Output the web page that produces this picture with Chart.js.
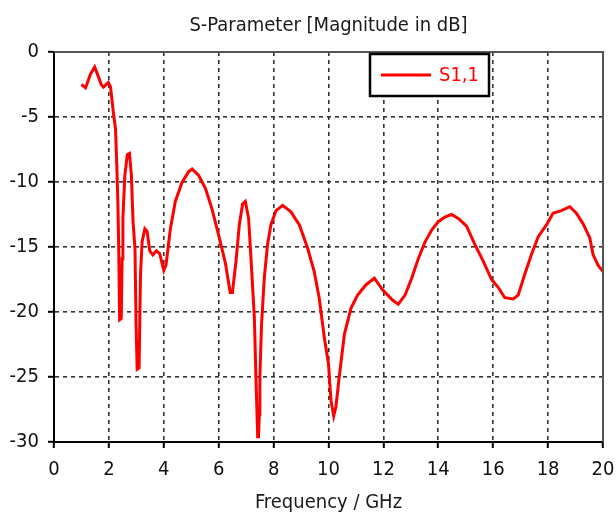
<!DOCTYPE html>
<html>
<head>
<meta charset="utf-8">
<script src="https://cdn.jsdelivr.net/npm/chart.js@4/dist/chart.umd.min.js"></script>
<style>
  html, body { margin: 0; padding: 0; background: #fff; }
  #wrap { width: 616px; height: 515px; }
</style>
</head>
<body>
<div id="wrap"><canvas id="chart" width="616" height="515"></canvas></div>
<script>
// S1,1 magnitude (GHz, dB)
const freq = [
  1.0, 1.15, 1.33, 1.48, 1.6, 1.72, 1.8, 1.98, 2.06, 2.16,
  2.24, 2.28, 2.33, 2.36, 2.39, 2.45, 2.48, 2.51, 2.58, 2.67,
  2.75, 2.82, 2.88, 2.95, 2.99, 3.03, 3.1, 3.15, 3.21, 3.31,
  3.39, 3.49, 3.6, 3.73, 3.85, 4.0, 4.08, 4.24, 4.42, 4.67,
  4.91, 5.03, 5.27, 5.52, 5.76, 6.0, 6.24, 6.42, 6.5, 6.63,
  6.75, 6.87, 6.97, 7.09, 7.21, 7.3, 7.36, 7.42, 7.45, 7.48,
  7.5, 7.56, 7.66, 7.78, 7.9, 8.09, 8.33, 8.63, 8.94, 9.24,
  9.48, 9.66, 9.85, 10.0, 10.09, 10.19, 10.27, 10.39, 10.58, 10.82,
  11.06, 11.37, 11.67, 11.97, 12.34, 12.54, 12.79, 13.03, 13.27, 13.52,
  13.76, 14.0, 14.24, 14.48, 14.73, 15.03, 15.33, 15.64, 15.94, 16.18,
  16.42, 16.73, 16.91, 17.15, 17.39, 17.64, 17.94, 18.18, 18.48, 18.79,
  19.03, 19.27, 19.52, 19.64, 19.82, 20.0
];
const s11 = [
  -2.5, -2.75, -1.7, -1.15, -1.8, -2.5, -2.7, -2.35, -2.7, -4.6,
  -5.9, -8.2, -11.8, -15.4, -20.6, -20.5, -15.9, -12.8, -9.5, -7.9,
  -7.8, -9.5, -13.1, -15.1, -21, -24.4, -24.3, -17.2, -14.6, -13.6,
  -13.8, -15.3, -15.6, -15.3, -15.5, -16.8, -16.4, -13.6, -11.5, -10.0,
  -9.2, -9.0, -9.5, -10.5, -12.1, -14.1, -16.2, -18.5, -18.5, -16.1,
  -13.3, -11.7, -11.5, -12.8, -17.1, -20.5, -25.3, -29.6, -29.6, -27.9,
  -25, -21, -17.4, -14.8, -13.3, -12.2, -11.8, -12.3, -13.3, -15.1,
  -16.9, -18.9, -22, -24, -26.8, -28, -27.3, -25, -21.7, -19.7,
  -18.7, -17.9, -17.4, -18.3, -19.1, -19.4, -18.7, -17.4, -15.9, -14.6,
  -13.7, -13.05, -12.7, -12.5, -12.8, -13.4, -14.8, -16.1, -17.5, -18.1,
  -18.9, -19.0, -18.7, -17.1, -15.6, -14.2, -13.3, -12.4, -12.2, -11.9,
  -12.4, -13.2, -14.3, -15.6, -16.4, -16.9
];
const seriesName = 'S1,1';
const titleText = 'S-Parameter [Magnitude in dB]';
const xTitle = 'Frequency / GHz';

const FONT = "'DejaVu Sans Condensed', 'DejaVu Sans', sans-serif";

// frame round the plot + legend box inside it
const framePlugin = {
  id: 'frame',
  afterDraw(chart) {
    const { ctx, chartArea: a } = chart;
    ctx.save();
    ctx.strokeStyle = '#555';
    ctx.lineWidth = 2;
    ctx.beginPath();
    ctx.moveTo(a.left, a.top);
    ctx.lineTo(a.right, a.top);
    ctx.lineTo(a.right, a.bottom);
    ctx.stroke();

    // legend
    const ds = chart.data.datasets[0];
    const bx = a.left + 316, by = a.top + 2, bw = 119, bh = 42;
    ctx.fillStyle = '#fff';
    ctx.fillRect(bx, by, bw, bh);
    ctx.strokeStyle = '#000';
    ctx.lineWidth = 2.5;
    ctx.strokeRect(bx, by, bw, bh);
    const my = by + bh / 2;
    ctx.strokeStyle = ds.borderColor;
    ctx.lineWidth = 3;
    ctx.beginPath();
    ctx.moveTo(bx + 11, my);
    ctx.lineTo(bx + 61, my);
    ctx.stroke();
    ctx.fillStyle = ds.borderColor;
    ctx.font = '20px ' + FONT;
    ctx.textBaseline = 'middle';
    ctx.fillText(ds.label, bx + 69, my + 1);
    ctx.restore();
  }
};

new Chart(document.getElementById('chart'), {
  type: 'line',
  data: {
    datasets: [{
      label: seriesName,
      data: freq.map((f, i) => ({ x: f, y: s11[i] })),
      borderColor: '#ff0000',
      borderWidth: 3,
      pointRadius: 0,
      tension: 0,
      fill: false
    }]
  },
  options: {
    responsive: false,
    animation: false,
    layout: { padding: { left: 0, right: 13, top: 0, bottom: 0 } },
    plugins: {
      legend: { display: false },
      tooltip: { enabled: false },
      title: {
        display: true,
        fullSize: false,
        text: titleText,
        color: '#1a1a1a',
        font: { family: FONT, size: 20, weight: 'normal' },
        padding: { top: 14, bottom: 14 }
      }
    },
    scales: {
      x: {
        type: 'linear',
        min: 0,
        max: 20,
        ticks: { stepSize: 2, color: '#111', font: { family: FONT, size: 20 }, padding: 10, maxRotation: 0 },
        grid: { color: '#333', lineWidth: 1.6, tickLength: 6, tickColor: '#000', tickWidth: 2 },
        border: { color: '#000', width: 2, dash: [4, 4] },
        title: { display: true, text: xTitle, color: '#1a1a1a', font: { family: FONT, size: 20 }, padding: { top: 0, bottom: 0 } },
        afterFit(scale) {
          scale.height = 73;
          scale.paddingLeft = 0;
          scale.paddingRight = 0;
        }
      },
      y: {
        min: -30,
        max: 0,
        ticks: { stepSize: 5, color: '#111', font: { family: FONT, size: 20 }, padding: 9 },
        grid: { color: '#333', lineWidth: 1.6, tickLength: 6, tickColor: '#000', tickWidth: 2 },
        border: { color: '#000', width: 2, dash: [4, 4] },
        afterFit(scale) { scale.width = 54; }
      }
    }
  },
  plugins: [framePlugin]
});
</script>
</body>
</html>
